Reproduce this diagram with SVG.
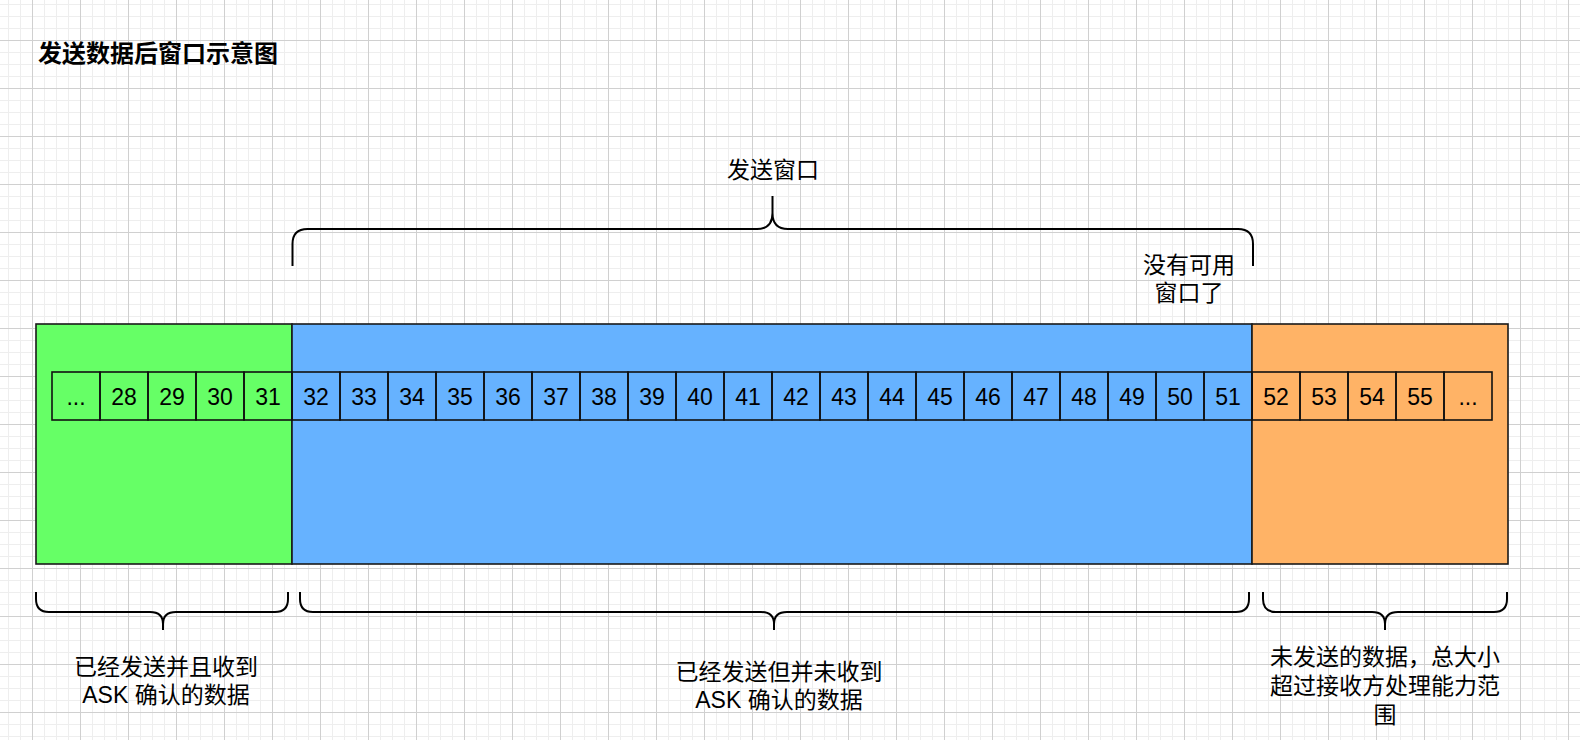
<svg xmlns="http://www.w3.org/2000/svg" width="1580" height="740" viewBox="0 0 1580 740">
  <defs>
    <!-- background grid: minor every 12px, major every 48px -->
    <pattern id="grid" x="32" y="40" width="48" height="48" patternUnits="userSpaceOnUse">
      <path d="M12.5,0 V48 M24.5,0 V48 M36.5,0 V48 M0,12.5 H48 M0,24.5 H48 M0,36.5 H48" stroke="#eeeeee" stroke-width="1" fill="none"/>
      <path d="M0.5,0 V48 M0,0.5 H48" stroke="#d0d0d0" stroke-width="1" fill="none"/>
    </pattern>
    <style>
      .txt { font-family: "Liberation Sans", "Noto Sans CJK SC", sans-serif; font-size: 23px; fill: #000; text-anchor: middle; }
      .title { font-family: "Liberation Sans", "Noto Sans CJK SC", sans-serif; font-size: 24px; font-weight: bold; fill: #000; }
      .zone { stroke: #1a1a1a; stroke-width: 1.6; }
      .cell { fill: none; stroke: #111; stroke-width: 1.6; }
      .brace { fill: none; stroke: #000; stroke-width: 2; }
    </style>
  </defs>

  <rect width="1580" height="740" fill="#ffffff"/>
  <rect width="1580" height="740" fill="url(#grid)"/>

  <text id="title" class="title" x="38" y="62">发送数据后窗口示意图</text>

  <!-- three zones of the byte stream -->
  <g id="acked">
    <rect class="zone" x="36" y="324" width="256" height="240" fill="#66FF66"/>
  </g>
  <g id="sent-unacked">
    <rect class="zone" x="292" y="324" width="960" height="240" fill="#66B2FF"/>
  </g>
  <g id="unsent">
    <rect class="zone" x="1252" y="324" width="256" height="240" fill="#FFB366"/>
  </g>

  <!-- sequence cells -->
  <g id="cells">
    <rect class="cell" x="52" y="372" width="48" height="48"/>
    <rect class="cell" x="100" y="372" width="48" height="48"/>
    <rect class="cell" x="148" y="372" width="48" height="48"/>
    <rect class="cell" x="196" y="372" width="48" height="48"/>
    <rect class="cell" x="244" y="372" width="48" height="48"/>
    <rect class="cell" x="292" y="372" width="48" height="48"/>
    <rect class="cell" x="340" y="372" width="48" height="48"/>
    <rect class="cell" x="388" y="372" width="48" height="48"/>
    <rect class="cell" x="436" y="372" width="48" height="48"/>
    <rect class="cell" x="484" y="372" width="48" height="48"/>
    <rect class="cell" x="532" y="372" width="48" height="48"/>
    <rect class="cell" x="580" y="372" width="48" height="48"/>
    <rect class="cell" x="628" y="372" width="48" height="48"/>
    <rect class="cell" x="676" y="372" width="48" height="48"/>
    <rect class="cell" x="724" y="372" width="48" height="48"/>
    <rect class="cell" x="772" y="372" width="48" height="48"/>
    <rect class="cell" x="820" y="372" width="48" height="48"/>
    <rect class="cell" x="868" y="372" width="48" height="48"/>
    <rect class="cell" x="916" y="372" width="48" height="48"/>
    <rect class="cell" x="964" y="372" width="48" height="48"/>
    <rect class="cell" x="1012" y="372" width="48" height="48"/>
    <rect class="cell" x="1060" y="372" width="48" height="48"/>
    <rect class="cell" x="1108" y="372" width="48" height="48"/>
    <rect class="cell" x="1156" y="372" width="48" height="48"/>
    <rect class="cell" x="1204" y="372" width="48" height="48"/>
    <rect class="cell" x="1252" y="372" width="48" height="48"/>
    <rect class="cell" x="1300" y="372" width="48" height="48"/>
    <rect class="cell" x="1348" y="372" width="48" height="48"/>
    <rect class="cell" x="1396" y="372" width="48" height="48"/>
    <rect class="cell" x="1444" y="372" width="48" height="48"/>
    <g class="txt">
      <text class="txt" x="76" y="405">...</text>
      <text class="txt" x="124" y="405">28</text>
      <text class="txt" x="172" y="405">29</text>
      <text class="txt" x="220" y="405">30</text>
      <text class="txt" x="268" y="405">31</text>
      <text class="txt" x="316" y="405">32</text>
      <text class="txt" x="364" y="405">33</text>
      <text class="txt" x="412" y="405">34</text>
      <text class="txt" x="460" y="405">35</text>
      <text class="txt" x="508" y="405">36</text>
      <text class="txt" x="556" y="405">37</text>
      <text class="txt" x="604" y="405">38</text>
      <text class="txt" x="652" y="405">39</text>
      <text class="txt" x="700" y="405">40</text>
      <text class="txt" x="748" y="405">41</text>
      <text class="txt" x="796" y="405">42</text>
      <text class="txt" x="844" y="405">43</text>
      <text class="txt" x="892" y="405">44</text>
      <text class="txt" x="940" y="405">45</text>
      <text class="txt" x="988" y="405">46</text>
      <text class="txt" x="1036" y="405">47</text>
      <text class="txt" x="1084" y="405">48</text>
      <text class="txt" x="1132" y="405">49</text>
      <text class="txt" x="1180" y="405">50</text>
      <text class="txt" x="1228" y="405">51</text>
      <text class="txt" x="1276" y="405">52</text>
      <text class="txt" x="1324" y="405">53</text>
      <text class="txt" x="1372" y="405">54</text>
      <text class="txt" x="1420" y="405">55</text>
      <text class="txt" x="1468" y="405">...</text>
    </g>
  </g>

  <!-- braces -->
  <g id="connectors">
    <path class="brace" d="M292.5,266 V244 Q292.5,229 307.5,229 H757 Q772.5,229 772.5,213 V196 M772.5,213 Q772.5,229 788,229 H1238 Q1253,229 1253,244 V266"/>
    <path class="brace" d="M36,592 V599 Q36,612 49,612 H150 Q163,612 163,624 V630 M163,624 Q163,612 176,612 H275 Q288,612 288,599 V592"/>
    <path class="brace" d="M300,592 V599 Q300,612 313,612 H761 Q774,612 774,624 V630 M774,624 Q774,612 787,612 H1236 Q1249,612 1249,599 V592"/>
    <path class="brace" d="M1263,592 V599 Q1263,612 1276,612 H1372 Q1385,612 1385,624 V630 M1385,624 Q1385,612 1398,612 H1494 Q1507,612 1507,599 V592"/>
  </g>

  <g id="label-window">
    <text class="txt" x="773" y="178">发送窗口</text>
  </g>
  <g id="label-full">
    <text class="txt" x="1189" y="273">没有可用</text>
    <text class="txt" x="1189" y="301">窗口了</text>
  </g>
  <g id="label-acked">
    <text class="txt" x="166" y="675">已经发送并且收到</text>
    <text class="txt" x="166" y="703">ASK 确认的数据</text>
  </g>
  <g id="label-unacked">
    <text class="txt" x="779" y="680">已经发送但并未收到</text>
    <text class="txt" x="779" y="708">ASK 确认的数据</text>
  </g>
  <g id="label-unsent">
    <text class="txt" x="1385" y="665">未发送的数据，总大小</text>
    <text class="txt" x="1385" y="694">超过接收方处理能力范</text>
    <text class="txt" x="1385" y="723">围</text>
  </g>
</svg>
